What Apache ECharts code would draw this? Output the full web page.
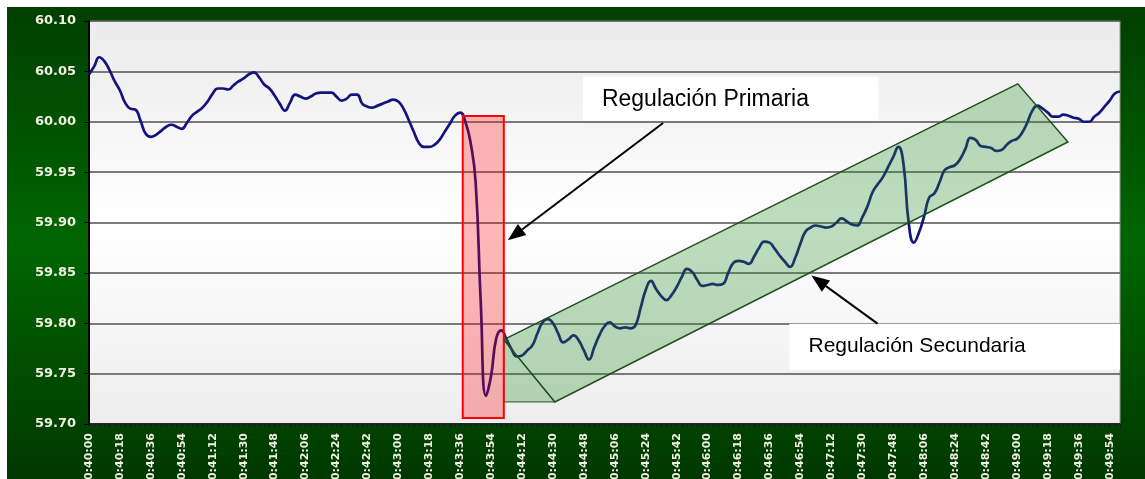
<!DOCTYPE html>
<html>
<head>
<meta charset="utf-8">
<script src="https://cdn.jsdelivr.net/npm/echarts@6/dist/echarts.min.js"></script>
<style>
  html, body { margin: 0; padding: 0; background: #ffffff; }
  #chart { width: 1145px; height: 479px; }
</style>
</head>
<body>
<div id="chart"></div>
<script>
// frecuencia (Hz), una muestra cada 3 s desde 10:40:00
const startSec = 10 * 3600 + 40 * 60;
const stepSec = 3;
const freq = [
  60.047, 60.055, 60.064, 60.060, 60.051, 60.040, 60.031, 60.019, 60.013, 60.012,
  60.001, 59.988, 59.985, 59.987, 59.991, 59.995, 59.997, 59.995, 59.993, 59.999,
  60.006, 60.010, 60.014, 60.020, 60.028, 60.033, 60.033, 60.032, 60.036, 60.040,
  60.043, 60.047, 60.049, 60.044, 60.037, 60.033, 60.026, 60.018, 60.011, 60.019,
  60.027, 60.025, 60.023, 60.025, 60.028, 60.029, 60.029, 60.029, 60.025, 60.021,
  60.023, 60.027, 60.027, 60.018, 60.015, 60.014, 60.016, 60.018, 60.020, 60.022,
  60.020, 60.013, 60.002, 59.990, 59.979, 59.975, 59.975, 59.977, 59.982, 59.990,
  59.998, 60.006, 60.009, 60.000, 59.980, 59.940, 59.820, 59.728, 59.748, 59.785,
  59.793, 59.784, 59.774, 59.767, 59.768, 59.773, 59.778, 59.790, 59.801, 59.804,
  59.800, 59.790, 59.781, 59.784, 59.788, 59.783, 59.773, 59.764, 59.776, 59.788,
  59.797, 59.801, 59.797, 59.795, 59.796, 59.795, 59.798, 59.815, 59.833, 59.842,
  59.834, 59.827, 59.823, 59.828, 59.836, 59.846, 59.854, 59.851, 59.843, 59.837,
  59.838, 59.839, 59.838, 59.839, 59.850, 59.860, 59.862, 59.861, 59.859, 59.866,
  59.875, 59.881, 59.880, 59.874, 59.867, 59.861, 59.856, 59.865, 59.879, 59.891,
  59.895, 59.897, 59.896, 59.895, 59.896, 59.900, 59.904, 59.901, 59.898, 59.897,
  59.905, 59.916, 59.930, 59.938, 59.945, 59.955, 59.965, 59.975, 59.958, 59.900,
  59.880, 59.890, 59.906, 59.925, 59.929, 59.940, 59.952, 59.955, 59.957, 59.963,
  59.973, 59.984, 59.982, 59.976, 59.975, 59.974, 59.971, 59.972, 59.977, 59.981,
  59.983, 59.989, 59.999, 60.011, 60.016, 60.013, 60.009, 60.005, 60.005, 60.007,
  60.006, 60.004, 60.003, 60.000, 60.000, 60.005, 60.009, 60.015, 60.021, 60.028,
  60.030
];
const pad = n => String(n).padStart(2, '0');
const times = freq.map((_, i) => {
  const s = startSec + i * stepSec;
  return pad(Math.floor(s / 3600)) + ':' + pad(Math.floor(s / 60) % 60) + ':' + pad(s % 60);
});
const yMin = 59.70, yMax = 60.10, yStep = 0.05;

const labels = ['Regulación Primaria', 'Regulación Secundaria'];

const chart = echarts.init(document.getElementById('chart'));

const outerBg = () => ({
  type: 'rect', z: -10, silent: true,
  shape: { x: 7, y: 7, width: 1138, height: 472 },
  style: {
    fill: new echarts.graphic.LinearGradient(0, 0, 0, 1, [
      { offset: 0, color: '#003f00' },
      { offset: 0.5, color: '#006600' },
      { offset: 1, color: '#003800' }
    ])
  }
});

chart.setOption({
  animation: false,
  graphic: [outerBg()],
  grid: {
    left: 89, right: 25, top: 21, bottom: 55,
    outerBoundsMode: 'none',
    containLabel: false,
    show: true,
    borderColor: '#9a9a9a',
    borderWidth: 1,
    backgroundColor: new echarts.graphic.LinearGradient(0, 0, 0, 1, [
      { offset: 0, color: '#ebebeb' },
      { offset: 0.5, color: '#ffffff' },
      { offset: 1, color: '#ededed' }
    ])
  },
  xAxis: [{
    type: 'category',
    data: times,
    boundaryGap: false,
    axisLine: { lineStyle: { color: '#111', width: 1.5 } },
    axisTick: { interval: 0, length: 3, lineStyle: { color: '#1a1a1a' } },
    axisLabel: {
      interval: 5, rotate: 90, margin: 9,
      color: '#f0f0e0', fontFamily: 'DejaVu Sans', fontWeight: 'bold', fontSize: 11
    },
    splitLine: { show: false }
  }, {
    type: 'value', min: 0, max: 600, show: false
  }],
  yAxis: {
    type: 'value',
    min: yMin, max: yMax, interval: yStep,
    axisLine: { show: true, lineStyle: { color: '#000', width: 2 } },
    axisTick: { show: true, length: 5, lineStyle: { color: '#000' } },
    axisLabel: {
      margin: 13,
      color: '#f0f0e0', fontFamily: 'DejaVu Sans', fontWeight: 'bold', fontSize: 13,
      formatter: v => v.toFixed(2)
    },
    splitLine: { lineStyle: { color: '#505050', width: 1.5 } }
  },
  series: [{
    type: 'line',
    data: freq,
    showSymbol: false,
    smooth: true,
    lineStyle: { color: '#14147c', width: 2.7 }
  }]
});

// anotaciones en coordenadas de datos (segundos, Hz)
const P = (t, v) => chart.convertToPixel({ xAxisIndex: 1, yAxisIndex: 0 }, [t, v]);

function arrow(from, to) {
  const a = P(from[0], from[1]), b = P(to[0], to[1]);
  const dx = b[0] - a[0], dy = b[1] - a[1];
  const len = Math.hypot(dx, dy), ux = dx / len, uy = dy / len;
  const hl = 18, hw = 7;
  const base = [b[0] - ux * hl, b[1] - uy * hl];
  return [{
    type: 'line', z: 30, silent: true,
    shape: { x1: a[0], y1: a[1], x2: base[0], y2: base[1] },
    style: { stroke: '#000', lineWidth: 2 }
  }, {
    type: 'polygon', z: 30, silent: true,
    shape: { points: [b, [base[0] - uy * hw, base[1] + ux * hw], [base[0] + uy * hw, base[1] - ux * hw]] },
    style: { fill: '#000' }
  }];
}

function box(t0, v0, t1, v1) {
  const a = P(t0, v0), b = P(t1, v1);
  return { x: a[0], y: a[1], width: b[0] - a[0], height: b[1] - a[1] };
}

const greenFill = 'rgba(40,140,40,0.3)';
const greenStroke = '#1f4f1f';
const rect2 = [P(241.4, 59.7837), P(540.5, 60.0376), P(569.7, 59.9799), P(271.1, 59.7219)];
const tri = [P(241.4, 59.7837), P(271.1, 59.7219), P(241.4, 59.7219)];
const t1 = P(298.5, 60.0217), t2 = P(418.7, 59.7777);

chart.setOption({
  graphic: [
    outerBg(),
    {
      type: 'rect', z: 10, silent: true,
      shape: box(217.5, 60.0058, 241.4, 59.706),
      style: { fill: 'rgba(255,0,0,0.28)', stroke: '#ff0000', lineWidth: 2 }
    },
    {
      type: 'polygon', z: 9, silent: true,
      shape: { points: tri },
      style: { fill: greenFill, stroke: greenStroke, lineWidth: 1 }
    },
    {
      type: 'polygon', z: 10, silent: true,
      shape: { points: rect2 },
      style: { fill: greenFill, stroke: greenStroke, lineWidth: 1.5 }
    },
    {
      type: 'rect', z: 20, silent: true,
      shape: box(287.5, 60.0446, 459.5, 60.0008),
      style: { fill: '#ffffff' }
    },
    {
      type: 'rect', z: 20, silent: true,
      shape: box(407.6, 59.7996, 600, 59.7538),
      style: { fill: '#ffffff' }
    },
    {
      type: 'text', z: 25, silent: true, x: t1[0], y: t1[1],
      style: { text: labels[0], fill: '#000', fontFamily: 'Liberation Sans, Arial', fontSize: 23, verticalAlign: 'middle' }
    },
    {
      type: 'text', z: 25, silent: true, x: t2[0], y: t2[1],
      style: { text: labels[1], fill: '#000', fontFamily: 'Liberation Sans, Arial', fontSize: 21, verticalAlign: 'middle' }
    },
    ...arrow([334.1, 59.9988], [243.7, 59.8823]),
    ...arrow([458.9, 59.7996], [420.4, 59.8474])
  ]
});
</script>
</body>
</html>
